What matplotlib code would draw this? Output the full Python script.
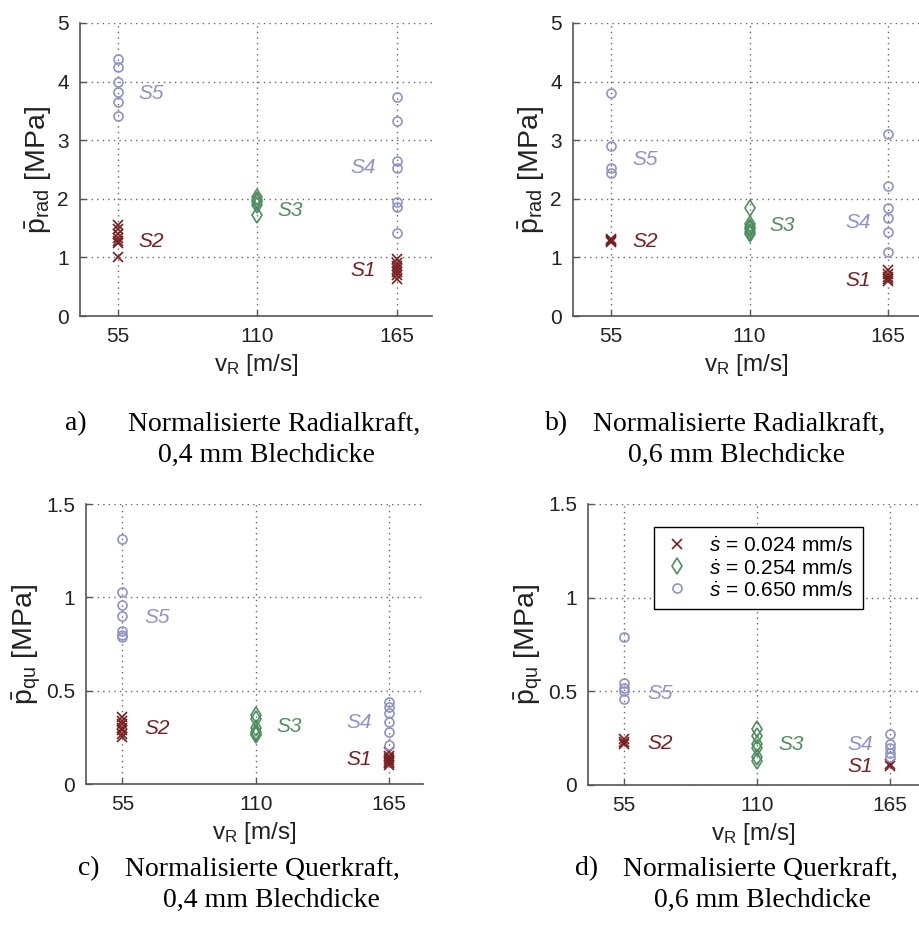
import matplotlib
matplotlib.use("Agg")
import matplotlib.pyplot as plt

plt.rcParams['font.family'] = ['Liberation Sans', 'DejaVu Sans']
plt.rcParams['mathtext.fontset'] = 'custom'
plt.rcParams['mathtext.rm'] = 'Liberation Sans'
plt.rcParams['mathtext.it'] = 'Liberation Sans:italic'
plt.rcParams['mathtext.bf'] = 'Liberation Sans:bold'

# ---------------- data ----------------
v_ticks = [55, 110, 165]

# panel a: normalised radial force, 0.4 mm
a_S2 = [1.55, 1.48, 1.40, 1.33, 1.28, 1.25, 1.00]          # x, v=55
a_S1 = [0.97, 0.90, 0.85, 0.80, 0.75, 0.70, 0.63]          # x, v=165
a_S3 = [2.03, 1.98, 1.95, 1.90, 1.72]                      # diamond, v=110
a_S5 = [4.38, 4.25, 4.00, 3.82, 3.66, 3.42]                # circle, v=55
a_S4 = [3.74, 3.33, 2.64, 2.52, 1.95, 1.86, 1.42]          # circle, v=165

# panel b: normalised radial force, 0.6 mm
b_S2 = [1.32, 1.30, 1.28, 1.27]
b_S1 = [0.78, 0.72, 0.67, 0.63, 0.60]
b_S3 = [1.85, 1.57, 1.52, 1.48, 1.43, 1.40]
b_S5 = [3.81, 2.90, 2.52, 2.44]
b_S4 = [3.10, 2.21, 1.84, 1.67, 1.44, 1.10]

# panel c: normalised transverse force, 0.4 mm
c_S2 = [0.36, 0.34, 0.32, 0.30, 0.29, 0.27, 0.25]
c_S1 = [0.17, 0.15, 0.14, 0.13, 0.12, 0.11, 0.10]
c_S3 = [0.37, 0.35, 0.30, 0.28, 0.27, 0.26]
c_S5 = [1.31, 1.03, 0.96, 0.90, 0.82, 0.80, 0.79]
c_S4 = [0.44, 0.41, 0.38, 0.33, 0.28, 0.21]

# panel d: normalised transverse force, 0.6 mm
d_S2 = [0.245, 0.23, 0.22]
d_S1 = [0.11, 0.10]
d_S3 = [0.30, 0.26, 0.22, 0.20, 0.15, 0.13]
d_S5 = [0.79, 0.545, 0.52, 0.50, 0.46]
d_S4 = [0.27, 0.22, 0.20, 0.17, 0.15]

legend_labels = [r'$\dot{s}$ = 0.024 mm/s', r'$\dot{s}$ = 0.254 mm/s', r'$\dot{s}$ = 0.650 mm/s']

c_red = '#7a1f1f'
c_green = '#4f8f5f'
c_blue = '#8f93c9'

W, H = 919, 944
fig = plt.figure(figsize=(W / 100, H / 100), dpi=100)


def ax_at(left, right, top, bottom):
    return fig.add_axes([left / W, 1 - bottom / H, (right - left) / W, (bottom - top) / H])


def panel(ax, S1, S2, S3, S4, S5, ylim, yticks, yticklabels, ylabel, xlim, lab_pos):
    ax.plot([55] * len(S2), S2, 'x', color=c_red, ms=7, mew=1.2, label=legend_labels[0], zorder=3)
    ax.plot([165] * len(S1), S1, 'x', color=c_red, ms=7, mew=1.2, zorder=3)
    ax.plot([110] * len(S3), S3, 'd', mfc='none', mec=c_green, ms=8, mew=1.2, label=legend_labels[1], zorder=3)
    ax.plot([55] * len(S5), S5, 'o', mfc='none', mec=c_blue, ms=6.5, mew=1.2, label=legend_labels[2], zorder=3)
    ax.plot([165] * len(S4), S4, 'o', mfc='none', mec=c_blue, ms=6.5, mew=1.2, zorder=3)
    ax.set_xlim(*xlim)
    ax.set_ylim(*ylim)
    ax.set_xticks(v_ticks)
    ax.set_xticklabels([str(v) for v in v_ticks])
    ax.set_yticks(yticks)
    ax.set_yticklabels(yticklabels)
    ax.grid(True, linestyle=(0, (1, 3)), color='#666666', linewidth=1.0)
    ax.set_axisbelow(True)
    for s in ['top', 'right']:
        ax.spines[s].set_visible(False)
    for s in ['left', 'bottom']:
        ax.spines[s].set_color('#555555')
        ax.spines[s].set_linewidth(1.2)
    ax.tick_params(direction='in', length=4, width=1, colors='#555555', labelcolor='#222222',
                   labelsize=15, pad=8)
    ax.set_xlabel(r'$\mathrm{v}_\mathrm{R}$ [m/s]', fontsize=17.5, color='#222222', labelpad=4)
    ax.set_ylabel(ylabel, fontsize=20.5, color='#222222', labelpad=2)
    cols = {'S1': c_red, 'S2': c_red, 'S3': c_green, 'S4': c_blue, 'S5': c_blue}
    for name, (x, y, ha) in lab_pos.items():
        ax.text(x, y, name, color=cols[name], fontsize=15, style='italic', ha=ha, va='center')


ylab_rad = r'$\bar{\mathrm{p}}_\mathrm{rad}$ [MPa]'
ylab_qu = r'$\bar{\mathrm{p}}_\mathrm{qu}$ [MPa]'

axa = ax_at(80, 432, 23, 316)
panel(axa, a_S1, a_S2, a_S3, a_S4, a_S5, (0, 5), [0, 1, 2, 3, 4, 5], ['0', '1', '2', '3', '4', '5'],
      ylab_rad, (40, 179),
      {'S5': (63, 3.8, 'left'), 'S2': (63, 1.27, 'left'), 'S3': (118, 1.8, 'left'),
       'S4': (157, 2.53, 'right'), 'S1': (157, 0.77, 'right')})

axb = ax_at(573, 919, 23, 316)
panel(axb, b_S1, b_S2, b_S3, b_S4, b_S5, (0, 5), [0, 1, 2, 3, 4, 5], ['0', '1', '2', '3', '4', '5'],
      ylab_rad, (40, 177.2),
      {'S5': (63.5, 2.67, 'left'), 'S2': (63.5, 1.27, 'left'), 'S3': (118, 1.55, 'left'),
       'S4': (158, 1.6, 'right'), 'S1': (158, 0.61, 'right')})

axc = ax_at(86, 423, 504, 784)
panel(axc, c_S1, c_S2, c_S3, c_S4, c_S5, (0, 1.5), [0, 0.5, 1, 1.5], ['0', '0.5', '1', '1.5'],
      ylab_qu, (40, 179),
      {'S5': (64, 0.89, 'left'), 'S2': (64, 0.30, 'left'), 'S3': (118.4, 0.31, 'left'),
       'S4': (157.8, 0.33, 'right'), 'S1': (157.8, 0.13, 'right')})

axd = ax_at(588, 919, 504, 785)
panel(axd, d_S1, d_S2, d_S3, d_S4, d_S5, (0, 1.5), [0, 0.5, 1, 1.5], ['0', '0.5', '1', '1.5'],
      ylab_qu, (40, 177),
      {'S5': (64.5, 0.49, 'left'), 'S2': (64.5, 0.22, 'left'), 'S3': (118.8, 0.215, 'left'),
       'S4': (158, 0.215, 'right'), 'S1': (158, 0.10, 'right')})
leg = axd.legend(loc='upper left', bbox_to_anchor=(0.199, 0.918), borderaxespad=0, fontsize=15,
                 fancybox=False, edgecolor='black', framealpha=1, handletextpad=0.9,
                 borderpad=0.45, labelspacing=0.15, handlelength=1.3)
leg.get_frame().set_linewidth(1.0)

# ---------------- captions ----------------
cap_font = dict(family=['Liberation Serif', 'DejaVu Serif'], fontsize=20, color='black', va='center')


def caption(letter, lx, tx, y1, line1, cx, y2, line2):
    fig.text(lx / W, 1 - y1 / H, letter, ha='left', **cap_font)
    fig.text(tx / W, 1 - y1 / H, line1, ha='left', **cap_font)
    fig.text(cx / W, 1 - y2 / H, line2, ha='center', **cap_font)


caption('a)', 65, 128, 424, 'Normalisierte Radialkraft,', 266, 455, '0,4 mm Blechdicke')
caption('b)', 545, 593, 424, 'Normalisierte Radialkraft,', 736, 455, '0,6 mm Blechdicke')
caption('c)', 78, 125, 869, 'Normalisierte Querkraft,', 271, 900, '0,4 mm Blechdicke')
caption('d)', 575, 623, 869, 'Normalisierte Querkraft,', 763, 900, '0,6 mm Blechdicke')

fig.savefig('out.png', dpi=100)
